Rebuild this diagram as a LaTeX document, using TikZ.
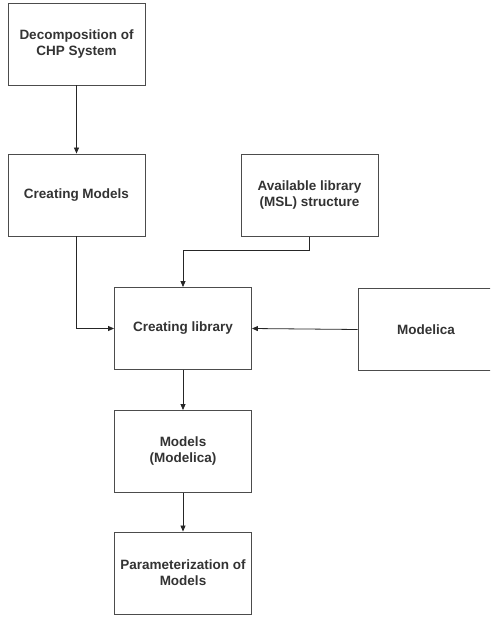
\documentclass[tikz,border=0pt]{standalone}
\usepackage{fontspec}
\setmainfont{Liberation Sans}
\usetikzlibrary{arrows.meta}
\begin{document}
\begin{tikzpicture}[x=1pt,y=-1pt,
  box/.style={draw=black!70, line width=0.9pt, fill=white, minimum width=137pt, minimum height=82pt, align=center, font=\bfseries\fontsize{13.5}{16}\selectfont, text=black!80, inner sep=2pt},
  conn/.style={draw=black!85, line width=0.8pt, -{Triangle[length=6pt,width=5pt]}}]
\useasboundingbox (0,0) rectangle (490,617);
\begin{scope}
\clip (0,0) rectangle (490,617);
\node[box] (b1) at (76.5,44) {Decomposition of\\CHP System};
\node[box] (b2) at (76.5,195) {Creating Models};
\node[box] (b3) at (309.5,195.5) {Available library\\(MSL) structure};
\node[box] (b4) at (183,328.5) {Creating library};
\node[box, minimum width=136pt] (b5) at (426,329.5) {Modelica};
\node[box] (b6) at (183,451.5) {Models\\(Modelica)};
\node[box] (b7) at (183,573) {Parameterization of\\Models};
\coordinate (k3) at (309.5,250);
\draw[conn] (b1) -- (b2);
\draw[conn] (b2.south) |- (b4.west);
\draw[conn] (b3.south) -- (k3) -| (b4.north);
\draw[conn] (b5.west) -- (b4.east);
\draw[conn] (b4) -- (b6);
\draw[conn] (b6) -- (b7);
\end{scope}
\end{tikzpicture}
\end{document}
